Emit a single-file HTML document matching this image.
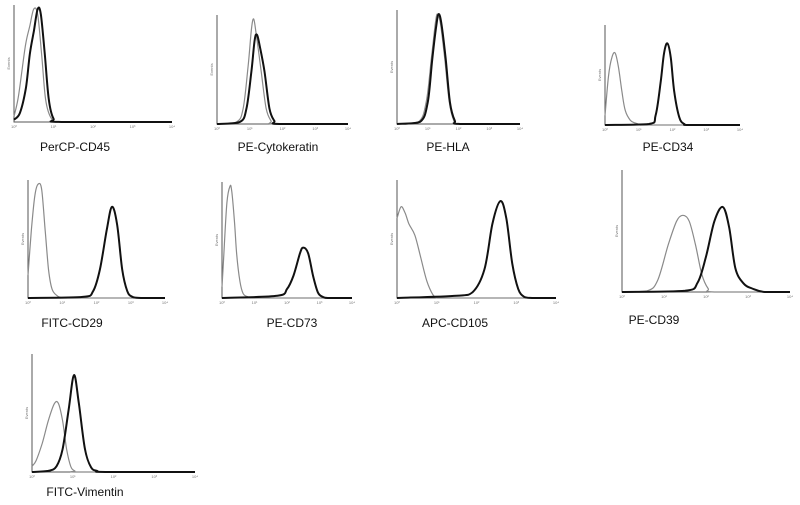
<!DOCTYPE html>
<html><head><meta charset="utf-8"><style>
body{margin:0;background:#fff;width:800px;height:505px;overflow:hidden}
svg{display:block}
text{font-family:"Liberation Sans",sans-serif}
</style></head><body>
<svg id="c" width="800" height="505"></svg>
<script>
const panelNames=["PerCP-CD45","PE-Cytokeratin","PE-HLA","PE-CD34","FITC-CD29","PE-CD73","APC-CD105","PE-CD39","FITC-Vimentin"];
const tickLabels=["10⁰","10¹","10²","10³","10⁴"];
// isotype (grey) series: log-decade positions and relative counts
const greyX=[
[0,0.1,0.2,0.3,0.4,0.5,0.6,0.7,0.8,0.95,1.2,4],
[0,0.6,0.8,0.95,1.05,1.12,1.2,1.35,1.5,1.65,1.8,4],
[0,0.7,0.95,1.12,1.25,1.32,1.42,1.55,1.7,1.85,2.0,4],
[0,0.1,0.2,0.3,0.4,0.5,0.6,0.75,0.9,1.1,1.3,4],
[0,0.1,0.2,0.3,0.4,0.5,0.6,0.7,0.85,1.0,1.2,4],
[0,0.05,0.15,0.25,0.3,0.38,0.45,0.55,0.65,0.8,1.0,4],
[0,0.1,0.2,0.3,0.45,0.6,0.75,0.9,1.0,1.1,1.25,4],
[0,0.6,0.85,1.1,1.3,1.45,1.6,1.75,1.9,2.05,2.2,4],
[0,0.1,0.25,0.4,0.55,0.65,0.75,0.85,0.95,1.05,1.2,4]];
const greyY=[
[0.05,0.2,0.45,0.7,0.85,1.0,0.95,0.6,0.2,0.03,0,0],
[0,0.02,0.15,0.55,0.9,1.0,0.85,0.5,0.15,0.03,0,0],
[0,0.02,0.2,0.6,0.92,1.0,0.9,0.6,0.2,0.03,0,0],
[0.1,0.5,0.7,0.75,0.6,0.35,0.15,0.05,0.02,0,0,0],
[0.2,0.6,0.9,1.0,0.95,0.6,0.25,0.08,0.02,0,0,0],
[0.1,0.35,0.85,1.0,0.95,0.7,0.4,0.15,0.04,0.01,0,0],
[0.7,0.8,0.75,0.65,0.55,0.35,0.15,0.03,0,0,0,0],
[0,0.01,0.1,0.4,0.6,0.65,0.6,0.4,0.15,0.03,0,0],
[0.05,0.1,0.25,0.45,0.6,0.6,0.45,0.2,0.05,0.01,0,0]];
// antibody (black) series
const blackX=[
[0,0.15,0.3,0.4,0.5,0.6,0.68,0.78,0.88,1.0,1.2,4],
[0,0.7,0.9,1.05,1.15,1.22,1.3,1.45,1.6,1.75,1.9,4],
[0,0.75,1.0,1.15,1.28,1.36,1.45,1.58,1.72,1.88,2.05,4],
[0,1.3,1.5,1.65,1.75,1.85,1.95,2.05,2.2,2.35,2.5,4],
[0,1.6,1.9,2.1,2.3,2.45,2.6,2.75,2.9,3.05,3.3,4],
[0,1.7,2.0,2.2,2.4,2.5,2.65,2.8,2.95,3.1,3.3,4],
[0,1.5,1.9,2.2,2.4,2.6,2.75,2.9,3.05,3.2,3.4,4],
[0,1.5,1.8,2.0,2.2,2.4,2.55,2.7,2.9,3.1,3.4,4],
[0,0.4,0.6,0.75,0.9,1.03,1.15,1.3,1.45,1.6,1.8,4]];
const blackY=[
[0.02,0.08,0.3,0.6,0.8,1.0,0.95,0.6,0.2,0.03,0,0],
[0,0.02,0.15,0.5,0.8,0.85,0.75,0.5,0.15,0.03,0,0],
[0,0.02,0.2,0.6,0.9,1.0,0.9,0.6,0.2,0.03,0,0],
[0,0.01,0.1,0.45,0.75,0.85,0.7,0.35,0.08,0.01,0,0],
[0,0.01,0.06,0.25,0.6,0.8,0.65,0.25,0.06,0.01,0,0],
[0,0.02,0.08,0.2,0.4,0.45,0.4,0.2,0.05,0.01,0,0],
[0,0.02,0.05,0.25,0.65,0.85,0.7,0.3,0.08,0.01,0,0],
[0,0.01,0.08,0.3,0.6,0.72,0.55,0.2,0.07,0.03,0,0],
[0,0.01,0.05,0.2,0.55,0.85,0.6,0.2,0.04,0.01,0,0]];
// layout: axis left, top, baseline, right, label center x, label y
const L=[[14,5,122,172,75,151],[217,15,124,348,278,151],[397,10,124,520,448,151],[605,25,125,740,668,151],
[28,180,298,165,72,327],[222,182,298,352,292,327],[397,180,298,556,455,327],[622,170,292,790,654,324],
[32,354,472,195,85,496]];
const NS="http://www.w3.org/2000/svg";
const svg=document.getElementById('c');
function mk(t,a,p){const e=document.createElementNS(NS,t);for(const k in a)e.setAttribute(k,a[k]);(p||svg).appendChild(e);return e;}
function smooth(pts){
  let d=`M${pts[0][0].toFixed(1)},${pts[0][1].toFixed(1)}`;
  for(let k=0;k<pts.length-1;k++){
    const p0=pts[Math.max(0,k-1)],p1=pts[k],p2=pts[k+1],p3=pts[Math.min(pts.length-1,k+2)];
    let c1y=p1[1]+(p2[1]-p0[1])/6, c2y=p2[1]-(p3[1]-p1[1])/6;
    const lo=Math.max(p1[1],p2[1])+0; 
    c1y=Math.min(c1y,Math.max(p1[1],p2[1],p0[1])); c2y=Math.min(c2y,Math.max(p1[1],p2[1],p3[1]));
    const c1x=p1[0]+(p2[0]-p0[0])/6, c2x=p2[0]-(p3[0]-p1[0])/6;
    d+=` C${c1x.toFixed(1)},${c1y.toFixed(1)} ${c2x.toFixed(1)},${c2y.toFixed(1)} ${p2[0].toFixed(1)},${p2[1].toFixed(1)}`;
  }
  return d;
}
panelNames.forEach((name,i)=>{
  const [x0,y0,yb,x1,lx,ly]=L[i];
  const g=mk('g',{});
  
  
  const sx=v=>x0+v/4*(x1-x0), sy=v=>yb-v*(yb-y0-4);
  const ax=mk('path',{d:`M${x0},${y0}V${yb}H${x1}`,stroke:'#555','stroke-width':1,fill:'none'},g);
  
  
  tickLabels.forEach((t,k)=>{
    const tx=mk('text',{x:sx(k),y:yb+6,'font-size':4,'text-anchor':'middle',fill:'#777'},g);tx.textContent=t;
    
    
  });
  const ev=mk('text',{x:x0-4,y:(y0+yb)/2,'font-size':4,fill:'#777','text-anchor':'middle',transform:`rotate(-90 ${x0-4} ${(y0+yb)/2})`},g);ev.textContent='Events';
  
  
  const pg=greyX[i].map((v,k)=>[sx(v),sy(greyY[i][k])]);
  const gl=mk('path',{d:smooth(pg),fill:'none',stroke:'#8a8a8a','stroke-width':1.2,'stroke-linejoin':'round'},g);
  
  
  const pb=blackX[i].map((v,k)=>[sx(v),sy(blackY[i][k])]);
  const bl=mk('path',{d:smooth(pb),fill:'none',stroke:'#111','stroke-width':2,'stroke-linejoin':'round'},g);
  
  
  const lb=mk('text',{x:lx,y:ly,'font-size':12,'text-anchor':'middle',fill:'#111'},g);lb.textContent=name;
  
  
});
</script>
</body></html>
